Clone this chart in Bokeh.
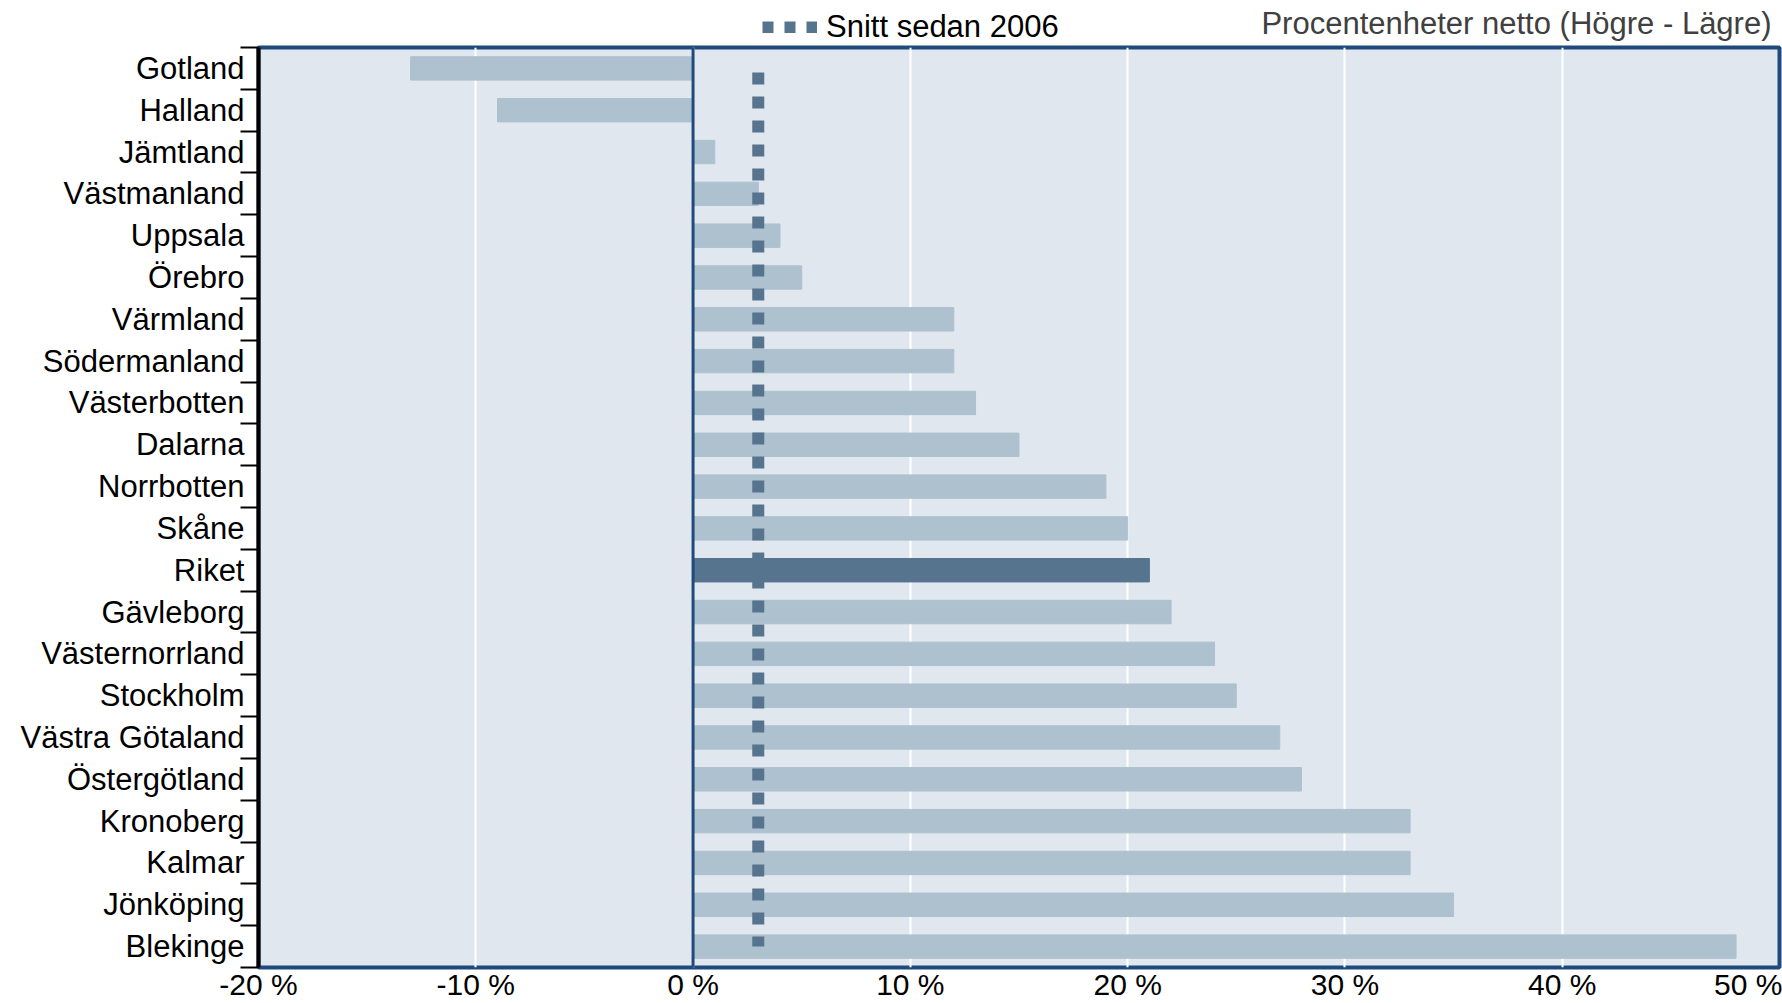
from bokeh.plotting import figure
from bokeh.layouts import column
from bokeh.models import (Range1d, LinearAxis, FixedTicker, Span, Label, Legend, LegendItem,
                          ColumnDataSource)
from bokeh.embed import file_html
from bokeh.resources import INLINE

# ---- data ----
regions = ["Gotland", "Halland", "Jämtland", "Västmanland", "Uppsala", "Örebro", "Värmland",
           "Södermanland", "Västerbotten", "Dalarna", "Norrbotten", "Skåne", "Riket", "Gävleborg",
           "Västernorrland", "Stockholm", "Västra Götaland", "Östergötland", "Kronoberg", "Kalmar",
           "Jönköping", "Blekinge"]
values = [-13, -9, 1, 3, 4, 5, 12, 12, 13, 15, 19, 20, 21, 22, 24, 25, 27, 28, 33, 33, 35, 48]
average_since_2006 = [3] * len(regions)
highlight = "Riket"
x_ticks = [-20, -10, 0, 10, 20, 30, 40, 50]
x_tick_labels = ["-20 %", "-10 %", "0 %", "10 %", "20 %", "30 %", "40 %", "50 %"]
legend_label = "Snitt sedan 2006"
unit_label = "Procentenheter netto (Högre - Lägre)"

LIGHT = "#aec1cf"
DARK = "#56748e"
NAVY = "#1f4a7c"
BG = "#e1e7ef"
FONT = "Liberation Sans"
FS = "31px"

n = len(regions)
ypos = [n - i - 0.5 for i in range(n)]
colors = [DARK if r == highlight else LIGHT for r in regions]
src = ColumnDataSource(dict(y=ypos, value=values, color=colors, avg=average_since_2006))

W = 1782
TOP_H = 45
MAIN_H = 1003 - TOP_H
LEFT = 258

p = figure(width=W, height=MAIN_H, output_backend="svg", toolbar_location=None,
           x_range=Range1d(x_ticks[0], x_ticks[-1]), y_range=Range1d(0, n),
           y_axis_location=None,
           min_border_left=LEFT, min_border_right=3, min_border_top=2, min_border_bottom=10)
p.background_fill_color = BG
p.border_fill_color = "white"
p.outline_line_color = NAVY
p.outline_line_width = 4

p.hbar(y="y", left=0, right="value", height=0.56, color="color", source=src)
p.line(x="avg", y="y", source=src, line_color=DARK, line_width=12, line_dash="12 12",
       line_dash_offset=20)

p.add_layout(Span(location=0, dimension="height", line_color=NAVY, line_width=3))

# x axis
p.xaxis.ticker = FixedTicker(ticks=x_ticks)
p.xaxis.major_label_overrides = {t: l for t, l in zip(x_ticks, x_tick_labels)}
p.xaxis.axis_line_color = None
p.xaxis.major_tick_line_color = None
p.xaxis.major_tick_out = 0
p.xaxis.major_tick_in = 0
p.xaxis.minor_tick_line_color = None
p.xaxis.major_label_standoff = 0
p.xaxis.major_label_text_font = FONT
p.xaxis.major_label_text_font_size = "30px"
p.xaxis.major_label_text_color = "black"
p.xgrid.ticker = FixedTicker(ticks=x_ticks)
p.xgrid.grid_line_color = "white"
p.xgrid.grid_line_width = 2
p.ygrid.grid_line_color = None

# y axis: labels at category centres, ticks at category boundaries
y_axis = LinearAxis(ticker=FixedTicker(ticks=ypos, minor_ticks=list(range(n + 1))),
                    major_label_overrides={y: r for y, r in zip(ypos, regions)},
                    axis_line_width=4, axis_line_color="black",
                    major_tick_line_color=None, major_tick_out=0, major_tick_in=0,
                    minor_tick_line_color="black", minor_tick_line_width=2,
                    minor_tick_out=18, minor_tick_in=0,
                    major_label_standoff=-4, major_label_text_font=FONT,
                    major_label_text_font_size=FS, major_label_text_color="black")
p.add_layout(y_axis, "left")

# ---- top strip: legend and unit text ----
top = figure(width=W, height=TOP_H, output_backend="svg", toolbar_location=None,
             x_range=p.x_range, y_range=Range1d(0, 1),
             x_axis_location=None, y_axis_location=None,
             min_border_left=LEFT, min_border_right=3, min_border_top=0, min_border_bottom=0)
top.outline_line_color = None
top.background_fill_color = "white"
top.border_fill_color = "white"
top.xgrid.grid_line_color = None
top.ygrid.grid_line_color = None

leg_r = top.line(x="avg", y="y", source=src, visible=False, line_color=DARK,
                 line_width=12, line_dash="11 11")
legend = Legend(items=[LegendItem(label=legend_label, renderers=[leg_r])], location=(504, 0),
                orientation="horizontal", glyph_width=55, glyph_height=12, label_standoff=9,
                padding=0, margin=0, border_line_color=None, background_fill_alpha=0,
                label_text_font=FONT, label_text_font_size=FS, label_text_color="black")
top.add_layout(legend)

top.add_layout(Label(x=x_ticks[-1], y=0.5, text=unit_label, text_align="right",
                     text_baseline="middle", x_offset=-8, text_font=FONT,
                     text_font_size=FS, text_color="#404040"))

layout = column(top, p, spacing=0)
open("out.html", "w").write(file_html(layout, INLINE))
